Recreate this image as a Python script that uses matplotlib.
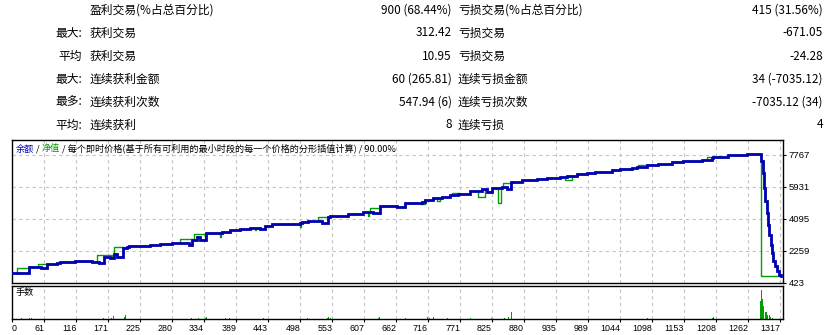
import numpy as np
import matplotlib
matplotlib.use("Agg")
import matplotlib.pyplot as plt

plt.rcParams['font.family'] = ['Noto Sans CJK SC', 'DejaVu Sans']

W, H = 829, 335

# ---------------- summary table ----------------
row_prefix = ["", "最大:", "平均", "最大:", "最多:", "平均:"]
win_labels = ["盈利交易(%占总百分比)", "获利交易", "获利交易", "连续获利金额", "连续获利次数", "连续获利"]
win_values = ["900 (68.44%)", "312.42", "10.95", "60 (265.81)", "547.94 (6)", "8"]
loss_labels = ["亏损交易(%占总百分比)", "亏损交易", "亏损交易", "连续亏损金额", "连续亏损次数", "连续亏损"]
loss_values = ["415 (31.56%)", "-671.05", "-24.28", "34 (-7035.12)", "-7035.12 (34)", "4"]

# ---------------- balance curve (trade #, balance) ----------------
balance_trades = [0, 15, 23, 35, 56, 66, 83, 88, 114, 143, 155, 163, 174, 180, 186, 195, 203, 206,
                  242, 259, 279, 308, 314, 322, 327, 338, 364, 378, 395, 412, 430, 438, 450, 464,
                  498, 501, 511, 535, 545, 549, 580, 605, 622, 634, 663, 677, 682, 706, 711, 725,
                  740, 754, 767, 788, 808, 817, 825, 834, 842, 851, 858, 877, 902, 919, 942, 953,
                  971, 988, 1001, 1022, 1030, 1044, 1064, 1073, 1090, 1109, 1133, 1151, 1184, 1201,
                  1203, 1228, 1261, 1278, 1284, 1288, 1290, 1291, 1295, 1296, 1298, 1301, 1303,
                  1305, 1308, 1312, 1315, 1318]
balance_values = [1025, 985, 1000, 1358, 1301, 1496, 1553, 1628, 1702, 1645, 1553, 1932, 1840, 2087,
                  1932, 2414, 2506, 2563, 2603, 2643, 2701, 2603, 2890, 3045, 2890, 3309, 3366, 3481,
                  3538, 3596, 3538, 3711, 3791, 3825, 3883, 3940, 3997, 3883, 4227, 4284, 4382, 4514,
                  4422, 4858, 4801, 4996, 5030, 5088, 5185, 5317, 5375, 5472, 5529, 5719, 5799, 5661,
                  5856, 5891, 5948, 5799, 6235, 6333, 6390, 6465, 6522, 6579, 6660, 6717, 6809, 6774,
                  6889, 6964, 7021, 7061, 7210, 7268, 7348, 7440, 7480, 7595, 7652, 7784, 7824, 7842,
                  7405, 6734, 5874, 5110, 4439, 3768, 3194, 2620, 2144, 1668, 1381, 1094, 899, 842]

# ---------------- equity deviations from balance (start, end, equity) ----------------
equity_start = [15, 51, 151, 180, 293, 317, 529, 617, 757, 844, 1074, 1192, 1284,
                361, 421, 497, 613, 702, 731, 801, 836, 950, 1180]
equity_end = [35, 66, 177, 197, 317, 336, 546, 634, 771, 860, 1090, 1203, 1318,
              363, 423, 500, 615, 711, 737, 813, 840, 962, 1185]
equity_value = [1266, 1513, 2030, 2506, 2930, 3234, 4227, 4709, 5570, 6178, 7176, 7635, 842,
                3079, 3464, 3653, 4284, 4938, 5128, 5375, 4996, 6333, 7400]

# ---------------- lots ----------------
lot_trades = [22, 37, 40, 163, 176, 179, 198, 200, 312, 324, 336, 339, 370, 377, 436, 510, 545, 547,
              549, 632, 634, 677, 716, 718, 725, 750, 788, 825, 846, 853, 856, 859, 1030, 1076, 1090,
              1201, 1203, 1284, 1285, 1287, 1289, 1291, 1292, 1294, 1296, 1298, 1301, 1303]
lot_values = [0.04, 0.06, 0.06, 0.04, 0.06, 0.14, 0.08, 0.18, 0.04, 0.04, 0.04, 0.08, 0.04, 0.04,
              0.06, 0.04, 0.04, 0.08, 0.06, 0.04, 0.08, 0.04, 0.08, 0.06, 0.08, 0.04, 0.04, 0.04,
              0.06, 0.08, 0.14, 0.28, 0.04, 0.04, 0.04, 0.04, 0.08, 0.72, 1.16, 0.80, 0.52, 0.28,
              0.28, 0.28, 0.16, 0.16, 0.08, 0.06]

x_tick_labels = ["0", "61", "116", "171", "225", "280", "334", "389", "443", "498", "553", "607",
                 "662", "716", "771", "825", "880", "935", "989", "1044", "1098", "1153", "1208",
                 "1262", "1317"]
y_ticks = [423, 2259, 4095, 5931, 7767]

BLUE = "#0000b0"
GREEN = "#00a000"
GRID = "#c4c4c4"

fig = plt.figure(figsize=(W / 100, H / 100), dpi=100)


def fx(px):
    return px / W


def fy(py):
    return 1 - py / H


# table
row_y = [10, 33, 56, 79, 102, 125]
for i, y in enumerate(row_y):
    fs = 8.5
    if row_prefix[i]:
        fig.text(fx(82), fy(y), row_prefix[i], ha="right", va="center", fontsize=fs)
    fig.text(fx(90), fy(y), win_labels[i], ha="left", va="center", fontsize=fs)
    fig.text(fx(452), fy(y), win_values[i], ha="right", va="center", fontsize=fs)
    fig.text(fx(458), fy(y), loss_labels[i], ha="left", va="center", fontsize=fs)
    fig.text(fx(823), fy(y), loss_values[i], ha="right", va="center", fontsize=fs)

x_left = 6.4
x_right = 1321.7
tick_pos = [x_left] + [float(s) for s in x_tick_labels[1:]]

# main axes
ax = fig.add_axes([fx(12), fy(283), fx(771), 143 / H])
ax.set_xlim(x_left, x_right)
ax.set_ylim(423, 8627)

ax.plot(balance_trades, balance_values, drawstyle="steps-post", color=GREEN, lw=1.0, zorder=2)
bt = np.array(balance_trades)
bv = np.array(balance_values)
for s, e, v in zip(equity_start, equity_end, equity_value):
    bs = bv[np.searchsorted(bt, s, side="right") - 1]
    be = bv[np.searchsorted(bt, e, side="right") - 1]
    ax.plot([s, s, e, e], [bs, v, v, be], color=GREEN, lw=1.0, zorder=2)
ax.plot(balance_trades, balance_values, drawstyle="steps-post", color=BLUE, lw=2.0,
        zorder=3, solid_joinstyle="miter")

ax.set_xticks(tick_pos[1:])
ax.set_xticklabels([])
ax.tick_params(axis="x", length=0)
ax.set_yticks(y_ticks)
ax.yaxis.tick_right()
ax.tick_params(axis="y", direction="out", length=2.5, width=0.8, labelsize=6.8, pad=1.5)
for lab in ax.get_yticklabels():
    lab.set_fontfamily(["Liberation Sans", "DejaVu Sans"])
ax.grid(True, color=GRID, linestyle=(0, (3, 3)), lw=0.8)
for sp in ax.spines.values():
    sp.set_color("black")
    sp.set_linewidth(1.0)

# header text
parts = ["余额", " / ", "净值", " / 每个即时价格(基于所有可利用的最小时段的每一个价格的分形插值计算) / 90.00%"]
colors = [BLUE, "#000000", GREEN, "#000000"]
prev = fig.text(fx(16), fy(149), parts[0], color=colors[0], fontsize=6.6, ha="left", va="center")
for p, c in zip(parts[1:], colors[1:]):
    prev = ax.annotate(p, xy=(1, 0), xycoords=prev, ha="left", va="bottom", color=c, fontsize=6.6)

# lots axes
ax2 = fig.add_axes([fx(12), fy(319), fx(771), 33 / H])
ax2.set_xlim(x_left, x_right)
ax2.set_ylim(0, 1.32)
ax2.bar(lot_trades, lot_values, width=1.6, color=GREEN, linewidth=0)
ax2.set_xticks(tick_pos)
ax2.set_xticklabels(x_tick_labels)
ax2.tick_params(axis="x", direction="out", length=2, width=0.8, labelsize=6.4, pad=1.5)
for lab in ax2.get_xticklabels():
    lab.set_fontfamily(["Liberation Sans", "DejaVu Sans"])
    lab.set_ha("right")
ax2.get_xticklabels()[0].set_ha("left")
ax2.set_yticks([])
ax2.grid(True, axis="x", color=GRID, linestyle=(0, (3, 3)), lw=0.8)
for sp in ax2.spines.values():
    sp.set_color("black")
    sp.set_linewidth(1.0)
ax2.text(4 / 771, 0.8, "手数", transform=ax2.transAxes, fontsize=6.6, ha="left", va="center")

fig.savefig("out.png", dpi=100)
